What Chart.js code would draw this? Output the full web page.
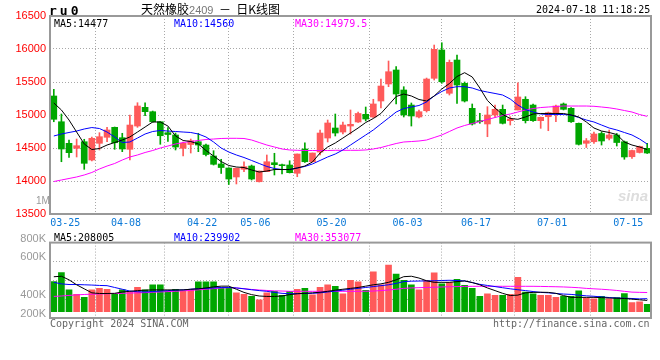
<!DOCTYPE html>
<html lang="zh-CN">
<head>
<meta charset="utf-8">
<title>天然橡胶2409 日K线图</title>
<script src="https://cdn.jsdelivr.net/npm/chart.js@4.4.1/dist/chart.umd.min.js"></script>
<style>
  html, body { margin: 0; padding: 0; background: #fff; }
  #lienzo { position: relative; width: 660px; height: 360px; overflow: hidden; }
  #kline { position: absolute; left: 0; top: 0; }
  #vol { position: absolute; left: 0; top: 232px; }
  .txt { position: absolute; white-space: pre; font-family: 'DejaVu Sans Mono', monospace; font-size: 10px; line-height: 10px; }
  #codigo { left: 49px; top: 4px; font-weight: bold; font-size: 13px; line-height: 13px; letter-spacing: 3px; color: #000; }
  #titulo { left: 141px; top: 2px; font-family: 'Noto Sans CJK SC', sans-serif; font-size: 12px; line-height: 14px; color: #000; }
  #titulo .num { font-family: 'Liberation Sans', sans-serif; font-size: 11px; color: #777; }
  #hora { left: 536px; top: 5px; color: #000; }
  #uno-m { left: 36px; top: 196px; font-family: 'Liberation Sans', sans-serif; font-size: 10px; color: #999; }
  #marca { left: 618px; top: 188px; font-family: 'Liberation Sans', sans-serif; font-weight: bold; font-style: italic; font-size: 15px; line-height: 15px; color: #ddd; }
  #copy { left: 50px; top: 319px; color: #666; }
  #url { left: 493px; top: 319px; color: #666; }
  .negro { color: #000; }
  .azul { color: #0000ff; }
  .rosa { color: #ff00ff; }
</style>
</head>
<body>
<div id="lienzo">
  <canvas id="kline" width="660" height="232"></canvas>
  <canvas id="vol" width="660" height="128"></canvas>
  <div class="txt" id="codigo">ru0</div>
  <div class="txt" id="titulo">天然橡胶<span class="num">2409</span>  －  日K线图</div>
  <div class="txt" id="hora">2024-07-18 11:18:25</div>
  <div class="txt" id="uno-m">1M</div>
  <div class="txt" id="marca">sina</div>
  <div class="txt negro" id="lg-ma5" style="left:54px;top:19px"></div>
  <div class="txt azul" id="lg-ma10" style="left:174px;top:19px"></div>
  <div class="txt rosa" id="lg-ma30" style="left:295px;top:19px"></div>
  <div class="txt negro" id="lv-ma5" style="left:54px;top:233px"></div>
  <div class="txt azul" id="lv-ma10" style="left:174px;top:233px"></div>
  <div class="txt rosa" id="lv-ma30" style="left:295px;top:233px"></div>
  <div class="txt" id="copy">Copyright 2024 SINA.COM</div>
  <div class="txt" id="url">http://finance.sina.com.cn</div>
</div>
<script>
/* ================================================
   RU0 — daily K line, 2409 contract
   ================================================ */

// ── DATA ──────────────────────────────────────
const dates = ['03-22','03-25','03-26','03-27','03-28','03-29','04-01','04-02','04-03','04-08',
    '04-09','04-10','04-11','04-12','04-15','04-16','04-17','04-18','04-19','04-22',
    '04-23','04-24','04-25','04-26','04-29','04-30','05-06','05-07','05-08','05-09',
    '05-10','05-13','05-14','05-15','05-16','05-17','05-20','05-21','05-22','05-23',
    '05-24','05-27','05-28','05-29','05-30','05-31','06-03','06-04','06-05','06-06',
    '06-07','06-11','06-12','06-13','06-14','06-17','06-18','06-19','06-20','06-21',
    '06-24','06-25','06-26','06-27','06-28','07-01','07-02','07-03','07-04','07-05',
    '07-08','07-09','07-10','07-11','07-12','07-15','07-16','07-17','07-18'];

const open = [15288,14898,14571,14495,14595,14318,14571,14662,14813,14656,
    14480,14833,15116,15050,14898,14732,14697,14495,14553,14595,
    14545,14379,14258,14197,14061,14177,14227,13989,14141,14277,
    14247,14242,14117,14485,14292,14439,14651,14803,14742,14833,
    14894,15010,14970,15212,15470,15682,15379,15151,14970,15065,
    15556,15985,15329,15833,15480,15101,14914,14864,15000,15086,
    14914,15076,15238,15151,14914,14974,15015,15167,15101,14874,
    14571,14595,14720,14647,14697,14595,14368,14432,14495];

const high = [15389,15015,14621,14636,14632,14666,14732,14813,14818,14723,
    15000,15186,15186,15060,14900,14810,14727,14591,14636,14723,
    14560,14459,14329,14200,14197,14292,14242,14151,14394,14420,
    14258,14307,14409,14580,14424,14773,14924,15015,14894,15076,
    15045,15121,15238,15545,15818,15732,15429,15182,15076,15560,
    16060,16095,15833,15909,15500,15167,15026,15126,15151,15151,
    14974,15489,15277,15167,14970,15045,15151,15182,15113,14879,
    14644,14742,14747,14773,14720,14606,14470,14530,14571];

const low = [14898,14292,14359,14364,14177,14303,14470,14595,14480,14444,
    14318,14813,14989,14890,14556,14598,14470,14379,14424,14444,
    14379,14242,14114,13947,13955,14141,14015,13985,14141,14091,
    14106,14121,14065,14283,14288,14394,14591,14682,14712,14712,
    14886,14909,14962,15106,15429,15167,14970,14833,14955,15045,
    15530,15480,15303,15177,15197,14848,14874,14671,14965,14864,
    14848,15076,14879,14901,14798,14762,14898,15076,14886,14545,
    14507,14571,14545,14621,14530,14329,14344,14424,14417];

const close = [14935,14485,14429,14535,14268,14647,14671,14773,14580,14485,
    14848,15136,15050,14898,14686,14704,14515,14571,14610,14545,
    14401,14253,14204,14030,14192,14217,14030,14151,14292,14247,
    14232,14126,14409,14292,14424,14727,14879,14727,14848,14859,
    15023,14939,15167,15439,15656,15318,15000,14985,15050,15545,
    15995,15504,15798,15454,15212,14864,14898,15000,15086,14874,
    14939,15273,14914,14914,14965,15035,15136,15086,14898,14556,
    14610,14712,14606,14697,14583,14364,14462,14523,14424];

const ma5 = [15182,15076,14924,14742,14561,14477,14492,14545,14583,14621,
    14667,14742,14818,14894,14894,14833,14682,14614,14598,14561,
    14462,14379,14295,14235,14212,14204,14167,14136,14151,14174,
    14174,14174,14197,14227,14288,14424,14515,14576,14651,14727,
    14803,14886,14947,15023,15151,15280,15318,15288,15235,15212,
    15288,15394,15477,15583,15641,15576,15409,15220,15106,15007,
    14947,14935,14970,15015,15023,15023,15023,15023,15000,14970,
    14894,14803,14757,14735,14704,14591,14545,14515,14477];

const ma10 = [14682,14712,14735,14757,14788,14810,14795,14742,14667,14583,
    14591,14651,14712,14750,14765,14757,14750,14742,14735,14712,
    14667,14591,14500,14439,14394,14356,14311,14265,14220,14189,
    14174,14174,14197,14220,14258,14311,14364,14409,14470,14545,
    14621,14697,14773,14864,14954,15045,15098,15121,15144,15197,
    15288,15356,15409,15429,15429,15409,15371,15348,15326,15303,
    15242,15151,15083,15045,15015,15007,15007,15007,15000,14962,
    14924,14894,14848,14803,14773,14735,14697,14636,14560];

const ma30 = [13992,14015,14038,14061,14091,14129,14182,14227,14265,14318,
    14364,14394,14432,14462,14500,14530,14561,14583,14598,14614,
    14629,14636,14644,14647,14647,14644,14621,14583,14545,14515,
    14485,14470,14465,14462,14462,14462,14462,14465,14465,14465,
    14465,14470,14485,14507,14538,14568,14591,14598,14606,14621,
    14659,14697,14750,14803,14841,14871,14901,14932,14962,14992,
    15015,15045,15076,15098,15113,15121,15129,15136,15136,15136,
    15136,15132,15121,15109,15091,15068,15045,15007,14979.5];

const volume = [556000,721000,401000,318000,264000,401000,429000,413000,318000,401000,
    358000,446000,401000,495000,495000,375000,413000,375000,401000,549000,
    549000,549000,441000,441000,347000,318000,281000,219000,347000,375000,
    302000,375000,413000,429000,309000,446000,495000,467000,330000,578000,
    549000,391000,731000,495000,858000,693000,578000,495000,401000,578000,
    714000,512000,540000,594000,483000,429000,281000,330000,302000,302000,
    318000,632000,363000,330000,302000,302000,264000,281000,281000,384000,
    252000,236000,281000,236000,259000,335000,170000,182000,137000];

const volMa5 = [643000,652000,586000,495000,421000,347000,335000,335000,338000,363000,
    375000,388000,396000,401000,401000,401000,401000,401000,413000,421000,
    437000,457000,470000,470000,413000,355000,314000,289000,281000,281000,
    289000,314000,330000,338000,347000,358000,375000,396000,413000,429000,
    446000,470000,495000,512000,540000,586000,644000,652000,619000,569000,
    540000,540000,540000,553000,566000,536000,495000,437000,388000,338000,
    297000,305000,347000,355000,358000,355000,338000,297000,264000,264000,
    264000,264000,259000,252000,248000,243000,231000,219000,208005];

const volMa10 = [540000,512000,500000,500000,495000,490000,483000,479000,446000,413000,
    380000,368000,363000,371000,380000,388000,396000,401000,413000,424000,
    429000,437000,446000,446000,437000,421000,404000,388000,375000,355000,
    338000,330000,333000,335000,338000,347000,363000,380000,396000,413000,
    429000,446000,462000,479000,495000,520000,553000,561000,564000,566000,
    569000,574000,578000,573000,566000,536000,503000,483000,462000,441000,
    421000,404000,388000,371000,355000,347000,335000,325000,318000,305000,
    292000,284000,272000,261000,252000,248000,243000,236000,239902];

const volMa30 = [281000,289000,300000,309000,317000,322000,327000,330000,335000,338000,
    343000,347000,351000,358000,363000,370000,376000,384000,393000,403000,
    413000,424000,436000,442000,437000,424000,409000,399000,391000,384000,
    380000,375000,375000,375000,375000,375000,375000,375000,375000,375000,
    375000,376000,380000,388000,399000,413000,429000,437000,442000,446000,
    450000,455000,459000,462000,465000,467000,467000,467000,467000,467000,
    467000,467000,467000,467000,465000,462000,459000,455000,449000,441000,
    429000,421000,413000,403000,391000,375000,360000,356000,353077];

const xTickDays = ['03-25','04-08','04-22','05-06','05-20','06-03','06-17','07-01','07-15'];
const volTickLabels = ['200K','400K','','600K','800K'];

// ── STYLE ─────────────────────────────────────
const ROJO = '#ff5a5a';
const VERDE = '#00a600';
const GRID = '#a8a8a8';
const MONO = "'DejaVu Sans Mono', monospace";
const SANS = "'Liberation Sans', Arial, sans-serif";

const PRICE_MIN = 13500, PRICE_MAX = 16500, PRICE_STEP = 500;
const VOL_MIN = -115500, VOL_STEP = 346500;

document.addEventListener('DOMContentLoaded', () => {

    const n = dates.length;
    const colores = open.map((o, i) => close[i] >= o ? ROJO : VERDE);
    const tickPos = xTickDays.map(d => dates.indexOf(d) + 0.5);
    const punto = arr => arr.map((v, i) => ({ x: i, y: v }));
    const ultimo = arr => arr[arr.length - 1];

    // legends
    document.getElementById('lg-ma5').textContent = 'MA5:' + ultimo(ma5);
    document.getElementById('lg-ma10').textContent = 'MA10:' + ultimo(ma10);
    document.getElementById('lg-ma30').textContent = 'MA30:' + ultimo(ma30);
    document.getElementById('lv-ma5').textContent = 'MA5:' + ultimo(volMa5);
    document.getElementById('lv-ma10').textContent = 'MA10:' + ultimo(volMa10);
    document.getElementById('lv-ma30').textContent = 'MA30:' + ultimo(volMa30);

    // frame round the plot area
    const marco = {
        id: 'marco',
        afterDraw(chart) {
            const { ctx, chartArea: a } = chart;
            ctx.save();
            ctx.strokeStyle = '#999';
            ctx.lineWidth = 2;
            ctx.strokeRect(a.left, a.top, a.right - a.left, a.bottom - a.top);
            ctx.restore();
        }
    };

    const linea = (label, arr, color) => ({
        type: 'line', label, data: punto(arr),
        borderColor: color, borderWidth: 1, pointRadius: 0,
        tension: 0, order: 0
    });

    const ejeX = (conEtiquetas) => ({
        type: 'linear', min: -0.5, max: n - 0.5, offset: false,
        afterBuildTicks: s => { s.ticks = tickPos.map(v => ({ value: v })); },
        afterFit: s => { s.height = conEtiquetas ? 18 : 0; },
        ticks: {
            display: conEtiquetas, autoSkip: false, maxRotation: 0, padding: 3,
            color: '#0a78d7', font: { family: MONO, size: 10 },
            callback: (v, i) => xTickDays[i]
        },
        grid: { color: GRID, lineWidth: 1, drawTicks: false },
        border: { display: false, dash: [1, 2] }
    });

    // ── 1. K LINE ─────────────────────────────
    new Chart(document.getElementById('kline'), {
        type: 'bar',
        data: {
            datasets: [
                linea('MA5', ma5, '#000000'),
                linea('MA10', ma10, '#0000ff'),
                linea('MA30', ma30, '#ff00ff'),
                {
                    label: 'Cuerpo',
                    data: open.map((o, i) => ({ x: i, y: [o, close[i]] })),
                    backgroundColor: colores, borderWidth: 0,
                    barThickness: 6, minBarLength: 1, grouped: false, order: 1
                },
                {
                    label: 'Sombra',
                    data: low.map((l, i) => ({ x: i, y: [l, high[i]] })),
                    backgroundColor: colores, borderWidth: 0,
                    barThickness: 1, grouped: false, order: 2
                }
            ]
        },
        options: {
            responsive: false,
            animation: false,
            layout: { padding: { left: 0, right: 9, top: 16, bottom: 0 } },
            plugins: { legend: { display: false }, tooltip: { enabled: false } },
            scales: {
                x: ejeX(true),
                y: {
                    min: PRICE_MIN, max: PRICE_MAX,
                    afterFit: s => { s.width = 50; },
                    ticks: {
                        stepSize: PRICE_STEP, color: '#ff0000', padding: 4,
                        font: { family: SANS, size: 11 },
                        callback: v => String(v)
                    },
                    grid: { color: GRID, lineWidth: 1, drawTicks: false },
                    border: { display: false, dash: [1, 2] }
                }
            }
        },
        plugins: [marco]
    });

    // ── 2. VOLUME ─────────────────────────────
    new Chart(document.getElementById('vol'), {
        type: 'bar',
        data: {
            datasets: [
                linea('MA5', volMa5, '#000000'),
                linea('MA10', volMa10, '#0000ff'),
                linea('MA30', volMa30, '#ff00ff'),
                {
                    label: 'Volumen',
                    data: punto(volume),
                    backgroundColor: colores, borderWidth: 0,
                    barThickness: 6, grouped: false, order: 1
                }
            ]
        },
        options: {
            responsive: false,
            animation: false,
            layout: { padding: { left: 0, right: 9, top: 2, bottom: 42 } },
            plugins: { legend: { display: false }, tooltip: { enabled: false } },
            scales: {
                x: ejeX(false),
                y: {
                    min: VOL_MIN, max: VOL_MIN + 4 * VOL_STEP,
                    afterFit: s => { s.width = 50; },
                    afterBuildTicks: s => {
                        s.ticks = volTickLabels.map((_, k) => ({ value: VOL_MIN + k * VOL_STEP }));
                    },
                    ticks: {
                        color: '#999', padding: 4, labelOffset: -4,
                        font: { family: SANS, size: 11 },
                        callback: (v, i) => volTickLabels[i]
                    },
                    grid: { color: GRID, lineWidth: 1, drawTicks: false },
                    border: { display: false, dash: [1, 2] }
                }
            }
        },
        plugins: [marco]
    });

});
</script>
</body>
</html>
